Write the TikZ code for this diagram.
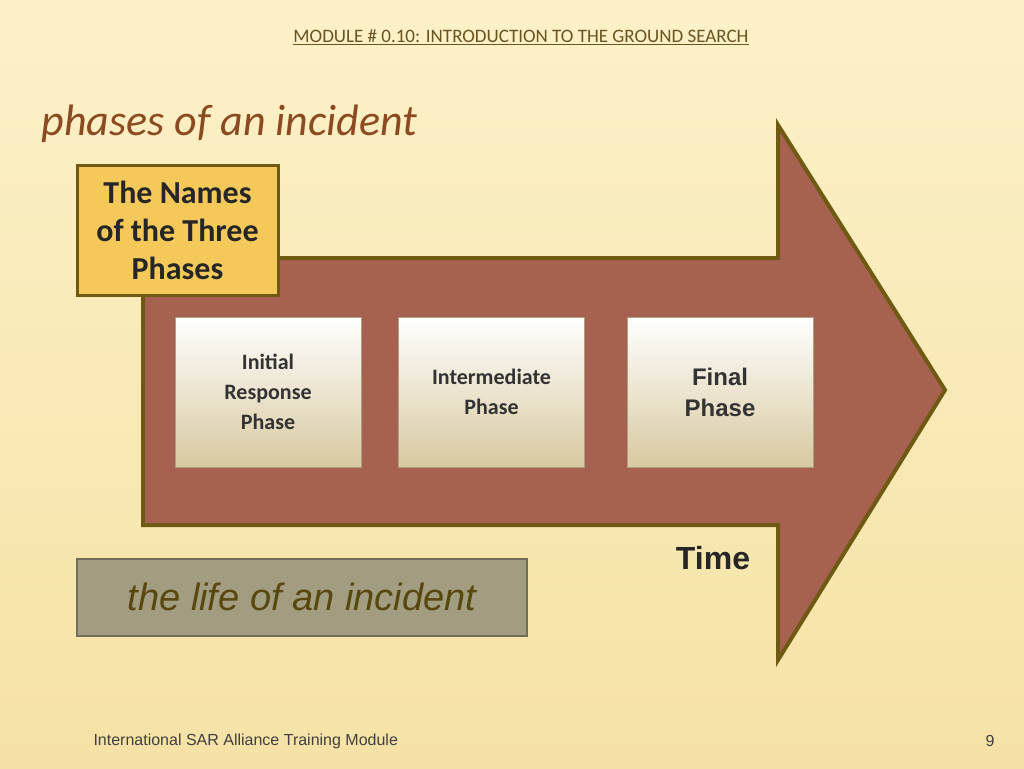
\documentclass[tikz,border=0pt]{standalone}
\usepackage{fontspec}
\setmainfont{Carlito}
\newfontfamily\arialfont{Liberation Sans}
\usetikzlibrary{positioning}
\definecolor{bgtop}{HTML}{FCF1C8}
\definecolor{bgbot}{HTML}{F6E2A6}
\definecolor{arrowfill}{HTML}{A66150}
\definecolor{olive}{HTML}{6E5A12}
\definecolor{namefill}{HTML}{F4C95A}
\definecolor{lifefill}{HTML}{A29C80}
\definecolor{titlecol}{HTML}{8C4A22}
\definecolor{headcol}{HTML}{6A5520}
\definecolor{phasebot}{HTML}{D8C9A0}
\tikzset{
  phasebox/.style={minimum width=186pt,minimum height=150pt,align=center,
    top color=white,bottom color=phasebot,draw=phasebot!80!black,line width=0.5pt,
    font=\bfseries\fontsize{22}{30}\selectfont,text=black!80},
}
\begin{document}
\begin{tikzpicture}[x=1pt,y=-1pt]
\useasboundingbox (0,0) rectangle (1024,768);
\shade[top color=bgtop,bottom color=bgbot] (0,0) rectangle (1024,768);
% header
\node[text=headcol,font=\fontsize{19}{21}\selectfont] (head) at (521,37)
  {\underline{MODULE \# 0.10: INTRODUCTION TO THE GROUND SEARCH}};
\node[anchor=west,text=titlecol,font=\itshape\fontsize{44}{48}\selectfont] (title) at (38,124) {phases of an incident};
% arrow
\draw[fill=arrowfill,draw=olive,line width=4pt,line join=miter]
  (143,258) -- (778,258) -- (778,125) -- (945,390) -- (778,660) -- (778,525) -- (143,525) -- cycle;
% names box
\node[draw=olive,line width=3pt,fill=namefill,minimum width=201pt,minimum height=130pt,align=center,
  font=\bfseries\fontsize{32}{38}\selectfont,text=black!85] (names) at (177.5,230)
  {The Names\\of the Three\\Phases};
% phases
\node[phasebox] (initial) at (268,392) {Initial\\Response\\Phase};
\node[phasebox,right=37pt of initial] (inter) {Intermediate\\Phase};
\node[phasebox,right=42pt of inter,font=\arialfont\bfseries\fontsize{24}{31}\selectfont] (final) {Final\\Phase};
\node[font=\arialfont\bfseries\fontsize{32}{36}\selectfont,text=black!85] (time) at (713,558) {Time};
% life box
\node[draw=lifefill!70!black,line width=2pt,fill=lifefill,minimum width=450pt,minimum height=77pt,
  font=\arialfont\itshape\fontsize{38}{42}\selectfont,text=olive!80!black] (life) at (302,597) {the life of an incident};
% footer
\node[anchor=west,font=\arialfont\fontsize{16}{18}\selectfont,text=black!75] (foot) at (90,741) {International SAR Alliance Training Module};
\node[font=\arialfont\fontsize{16}{18}\selectfont,text=black!75] (page) at (990,741) {9};
\end{tikzpicture}
\end{document}
